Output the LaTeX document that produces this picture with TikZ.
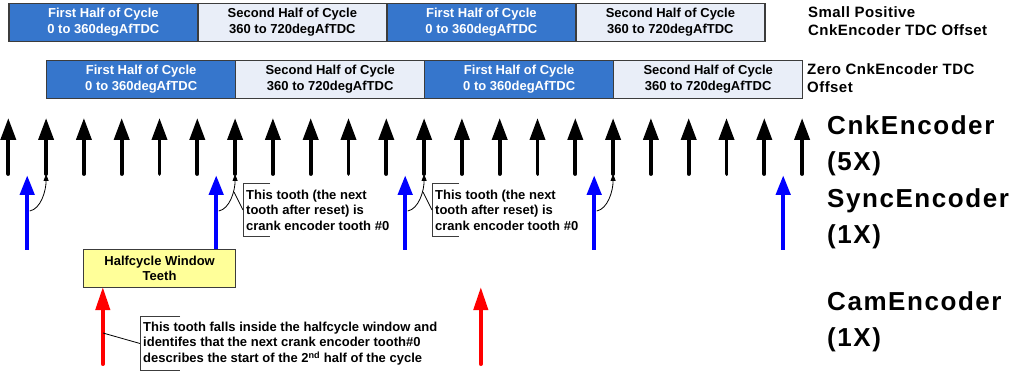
\documentclass[tikz,border=0pt]{standalone}
\usepackage{fontspec}
\setmainfont{Liberation Sans}
\newfontfamily\labfont[LetterSpace=3]{Liberation Sans}
\newfontfamily\bigfont[LetterSpace=6]{Liberation Sans}
\usetikzlibrary{arrows.meta}
\definecolor{halfA}{RGB}{54,118,204}
\definecolor{halfB}{RGB}{233,238,248}
\definecolor{winfill}{RGB}{255,255,153}
\definecolor{edge}{RGB}{60,60,60}
\begin{document}
\begin{tikzpicture}[x=1pt,y=-1pt,
  half/.style={draw=edge, line width=1.2pt, minimum width=189pt, minimum height=38pt,
    inner sep=0pt, align=center, anchor=north west,
    font=\bfseries\fontsize{13}{16}\selectfont},
  firsthalf/.style={half, fill=halfA, text=white},
  secondhalf/.style={half, fill=halfB, text=black},
  crank/.style={black, line width=3.8pt, line cap=round, -{Triangle[length=22pt,width=15pt]}},
  sync/.style={blue, line width=4.5pt, -{Triangle[length=20pt,width=14pt]}},
  cam/.style={red, line width=4pt, line cap=round, -{Triangle[length=23pt,width=14pt]}},
  link/.style={black, line width=0.8pt, -{Triangle[length=7pt,width=5pt]}},
  pointer/.style={black, line width=0.8pt},
  bracket/.style={edge, line width=1pt},
  callout/.style={inner sep=3pt, align=left, anchor=west,
    font=\bfseries\fontsize{13}{15.5}\selectfont},
  sidelabel/.style={inner sep=0pt, align=left, anchor=west,
    font=\labfont\bfseries\fontsize{15}{18}\selectfont},
  biglabel/.style={inner sep=0pt, align=left, anchor=west,
    font=\bigfont\bfseries\fontsize{26}{36}\selectfont},
  window/.style={draw=edge, line width=1.2pt, fill=winfill, minimum width=152pt,
    minimum height=38pt, inner sep=0pt, align=center, anchor=north west,
    font=\bfseries\fontsize{13}{15.5}\selectfont}
]
\useasboundingbox[fill=white] (0,0) rectangle (1014,371);

% half-cycle bars
\node[firsthalf]  (a1) at (8.3,3)   {First Half of Cycle\\0 to 360degAfTDC};
\node[secondhalf] (a2) at (197.3,3) {Second Half of Cycle\\360 to 720degAfTDC};
\node[firsthalf]  (a3) at (386.3,3) {First Half of Cycle\\0 to 360degAfTDC};
\node[secondhalf] (a4) at (575.3,3) {Second Half of Cycle\\360 to 720degAfTDC};

\node[firsthalf]  (b1) at (46.1,60)  {First Half of Cycle\\0 to 360degAfTDC};
\node[secondhalf] (b2) at (235.1,60) {Second Half of Cycle\\360 to 720degAfTDC};
\node[firsthalf]  (b3) at (424.1,60) {First Half of Cycle\\0 to 360degAfTDC};
\node[secondhalf] (b4) at (613.1,60) {Second Half of Cycle\\360 to 720degAfTDC};

\node[sidelabel] (l1) at (808,21) {Small Positive\\CnkEncoder TDC Offset};
\node[sidelabel] (l2) at (807,78) {Zero CnkEncoder TDC\\Offset};

% crank teeth
\foreach \i in {0,...,21}{
  \pgfmathsetmacro\xx{8.3+37.8*\i}
  \coordinate (kb\i) at (\xx,174);
  \coordinate (kt\i) at (\xx,118);
  \draw[crank] (kb\i) -- (kt\i);
}

% sync teeth
\foreach \i in {0,5,10,15,20}{
  \pgfmathsetmacro\xx{8.3+37.8*(\i+0.5)}
  \pgfmathsetmacro\xm{\xx+2.5}
  \coordinate (sb\i) at (\xx,250);
  \coordinate (st\i) at (\xx,175);
  \coordinate (sm\i) at (\xm,211);
  \draw[sync] (sb\i) -- (st\i);
}
\foreach \i/\j in {0/1,5/6,10/11,15/16}{
  \draw[link] (sm\i) .. controls +(11,-2) and +(0,17) .. (kb\j);
}

% callouts for tooth #0
\node[callout, minimum height=52pt] (c1) at (243,210)
  {This tooth (the next\\tooth after reset) is\\crank encoder tooth \#0};
\draw[bracket] ([xshift=27pt]c1.north west) -- (c1.north west) -- (c1.south west) -- ([xshift=27pt]c1.south west);
\coordinate (p1) at (234,192);
\draw[pointer] (p1) -- (c1.west);

\node[callout, minimum height=52pt] (c2) at (432,210)
  {This tooth (the next\\tooth after reset) is\\crank encoder tooth \#0};
\draw[bracket] ([xshift=27pt]c2.north west) -- (c2.north west) -- (c2.south west) -- ([xshift=27pt]c2.south west);
\coordinate (p2) at (423,192);
\draw[pointer] (p2) -- (c2.west);

% halfcycle window
\node[window] (win) at (83,249) {Halfcycle Window\\Teeth};

% cam teeth
\coordinate (cb1) at (102.8,364);
\coordinate (ct1) at (102.8,287);
\coordinate (cb2) at (480.8,364);
\coordinate (ct2) at (480.8,287);
\draw[cam] (cb1) -- (ct1);
\draw[cam] (cb2) -- (ct2);

\node[callout, minimum height=53pt] (c3) at (140,343.5)
  {This tooth falls inside the halfcycle window and\\identifes that the next crank encoder tooth\#0\\describes the start of the 2\textsuperscript{nd} half of the cycle};
\draw[bracket] ([xshift=40pt]c3.north west) -- (c3.north west) -- (c3.south west) -- ([xshift=40pt]c3.south west);
\coordinate (p3) at (103,333);
\draw[pointer] (p3) -- (c3.west);

% encoder labels
\node[biglabel] (cnk)  at (827,145.5) {CnkEncoder\\(5X)};
\node[biglabel] (sync) at (827,219)   {SyncEncoder\\(1X)};
\node[biglabel] (cam)  at (827,321.5) {CamEncoder\\(1X)};
\end{tikzpicture}
\end{document}
